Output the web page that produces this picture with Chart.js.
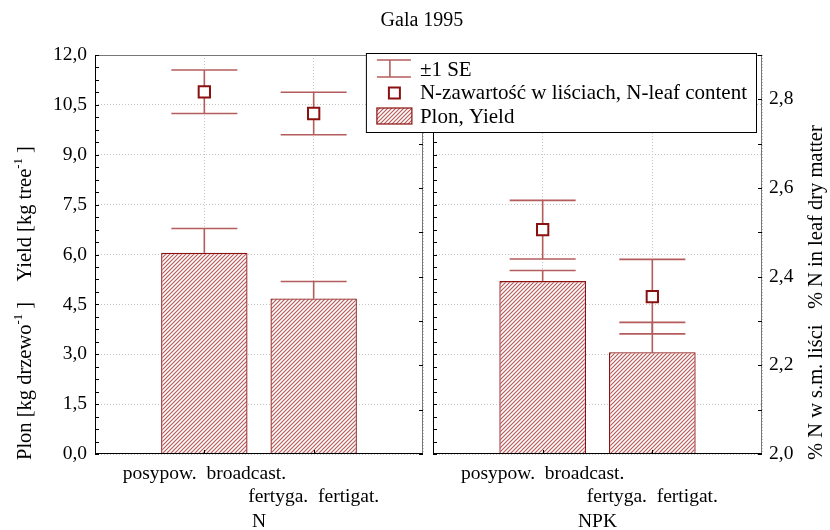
<!DOCTYPE html>
<html>
<head>
<meta charset="utf-8">
<script src="https://cdn.jsdelivr.net/npm/chart.js@4.4.1/dist/chart.umd.min.js"></script>
<style>
  body { margin: 0; background: #fff; }
  #wrap { position: relative; width: 830px; height: 530px; }
  #wrap canvas { position: absolute; left: 0; top: 0; }
  #title { position: absolute; left: 0; width: 844px; top: 8px; line-height: 22px;
           text-align: center; font: 20px "Liberation Serif"; color: #000; }
</style>
</head>
<body>
<div id="wrap">
  <canvas id="chartN" width="830" height="530"></canvas>
  <canvas id="chartNPK" width="830" height="530"></canvas>
  <div id="title">Gala 1995</div>
</div>
<script>
// data
var groups = ['N', 'NPK'];
var methods = [['posypow.  broadcast.', ''], ['', 'fertyga.  fertigat.']];

var yieldN = [6.05, 4.68];
var yieldSeN = [0.73, 0.51];
var yieldNPK = [5.20, 3.06];
var yieldSeNPK = [0.32, 0.90];

var leafN = [2.817, 2.768];
var leafSeN = [0.049, 0.048];
var leafNPK = [2.506, 2.355];
var leafSeNPK = [0.066, 0.084];

var legendLabels = ['\u00b11 SE', 'N-zawarto\u015b\u0107 w li\u015bciach, N-leaf content', 'Plon, Yield'];
// [text, superscript?]
var leftTitle = [['Plon [kg drzewo', 0], ['-1', 1], [' ]    Yield [kg tree', 0], ['-1', 1], [' ]', 0]];
var rightTitle = [['% N w s.m. li\u015bci   % N in leaf dry matter', 0]];

var dark = '#8b1010';
var errColor = '#b45c5c';
var serif = '"Liberation Serif", "Times New Roman", serif';

function pad(arr) {
    return [null].concat(arr, [null]);
}

function makeHatch() {
    var c = document.createElement('canvas');
    c.width = 4; c.height = 4;
    var g = c.getContext('2d');
    g.fillStyle = '#fff';
    g.fillRect(0, 0, 4, 4);
    g.strokeStyle = '#b85a5a';
    g.lineWidth = 1.2;
    g.beginPath();
    g.moveTo(0, 4); g.lineTo(4, 0);
    g.moveTo(-1, 1); g.lineTo(1, -1);
    g.moveTo(3, 5); g.lineTo(5, 3);
    g.stroke();
    return g.createPattern(c, 'repeat');
}
var hatch = makeHatch();

function fmt(v) {
    return v.toFixed(1).replace('.', ',');
}

function seg(ctx, x1, y1, x2, y2) {
    ctx.beginPath();
    ctx.moveTo(x1, y1);
    ctx.lineTo(x2, y2);
    ctx.stroke();
}

// error bars: yield only above the bar, leaf content both ways
var errorBars = {
    id: 'errorBars',
    beforeDatasetsDraw: function(chart, args, opts) {
        var ctx = chart.ctx, x = chart.scales.x, y = chart.scales.y, y1 = chart.scales.y1;
        var half = opts.cap / 2;
        ctx.save();
        ctx.strokeStyle = errColor;
        ctx.lineWidth = 1.6;
        opts.yieldVals.forEach(function(v, i) {
            var px = x.getPixelForValue(i + 1);
            var base = y.getPixelForValue(v);
            var top = y.getPixelForValue(v + opts.yieldSe[i]);
            seg(ctx, px, base, px, top);
            seg(ctx, px - half, top, px + half, top);
        });
        opts.leafVals.forEach(function(v, i) {
            var px = x.getPixelForValue(i + 1);
            var hi = y1.getPixelForValue(v + opts.leafSe[i]);
            var lo = y1.getPixelForValue(v - opts.leafSe[i]);
            seg(ctx, px, lo, px, hi);
            seg(ctx, px - half, hi, px + half, hi);
            seg(ctx, px - half, lo, px + half, lo);
        });
        ctx.restore();
    }
};

// plot frame with small inward ticks
var frame = {
    id: 'frame',
    afterDatasetsDraw: function(chart) {
        var a = chart.chartArea, ctx = chart.ctx;
        var y = chart.scales.y, y1 = chart.scales.y1, x = chart.scales.x;
        var v, p;
        ctx.save();
        ctx.lineWidth = 1;
        ctx.strokeStyle = '#777';
        seg(ctx, a.left, a.top + 0.5, a.right, a.top + 0.5);
        seg(ctx, a.right - 0.5, a.top, a.right - 0.5, a.bottom);
        ctx.strokeStyle = '#000';
        seg(ctx, a.left + 0.5, a.top, a.left + 0.5, a.bottom);
        seg(ctx, a.left, a.bottom - 0.5, a.right, a.bottom - 0.5);
        for (v = 0; v <= 12.001; v += 0.375) {
            p = Math.round(y.getPixelForValue(v)) + 0.5;
            seg(ctx, a.left, p, a.left + 4, p);
        }
        for (v = 2.0; v <= 2.901; v += 0.1) {
            p = Math.round(y1.getPixelForValue(v)) + 0.5;
            seg(ctx, a.right - 4, p, a.right, p);
        }
        for (v = 1; v <= 2; v++) {
            p = Math.round(x.getPixelForValue(v)) + 0.5;
            seg(ctx, p, a.bottom, p, a.bottom - 4);
        }
        ctx.restore();
    }
};

// rotated axis titles, reading upwards on both sides
var sideTitle = {
    id: 'sideTitle',
    afterDraw: function(chart, args, opts) {
        var ctx = chart.ctx, a = chart.chartArea;
        var size = opts.size;
        var cx = opts.side === 'left' ? a.left - opts.gap : a.right + opts.gap;
        var pos = 0;
        ctx.save();
        ctx.translate(cx, a.bottom + opts.drop);
        ctx.rotate(-Math.PI / 2);
        ctx.fillStyle = '#000';
        ctx.textAlign = 'left';
        ctx.textBaseline = 'middle';
        opts.parts.forEach(function(part) {
            var s = part[1] ? size * 0.62 : size;
            ctx.font = s + 'px ' + serif;
            ctx.fillText(part[0], pos, part[1] ? -size * 0.38 : 0);
            pos += ctx.measureText(part[0]).width;
        });
        ctx.restore();
    }
};

var legendBox = {
    id: 'legendBox',
    afterDraw: function(chart) {
        var ctx = chart.ctx, a = chart.chartArea;
        ctx.save();
        ctx.font = '21px ' + serif;
        var tw = 0;
        legendLabels.forEach(function(t) { tw = Math.max(tw, ctx.measureText(t).width); });
        var w = 54 + tw + 9, h = 79;
        var right = a.right - 6, top = a.top - 2, left = right - w;
        var rowH = 23.5, cy = top + 16, sx = left + 28;
        ctx.fillStyle = '#fff';
        ctx.fillRect(left, top, w, h);
        ctx.strokeStyle = '#000';
        ctx.lineWidth = 1;
        ctx.strokeRect(left + 0.5, top + 0.5, w, h);
        // error bar symbol
        ctx.strokeStyle = errColor;
        ctx.lineWidth = 1.6;
        seg(ctx, sx - 17, cy - 9, sx + 17, cy - 9);
        seg(ctx, sx - 17, cy + 8, sx + 17, cy + 8);
        seg(ctx, sx - 4, cy - 9, sx - 4, cy + 8);
        // square marker
        ctx.strokeStyle = dark;
        ctx.lineWidth = 2;
        ctx.fillStyle = '#fff';
        ctx.fillRect(sx - 5, cy + rowH - 5, 11, 11);
        ctx.strokeRect(sx - 5, cy + rowH - 5, 11, 11);
        // hatched box
        ctx.fillStyle = hatch;
        ctx.fillRect(sx - 17, cy + 2 * rowH - 8, 35, 16);
        ctx.lineWidth = 1.2;
        ctx.strokeRect(sx - 17, cy + 2 * rowH - 8, 35, 16);
        ctx.fillStyle = '#000';
        ctx.textAlign = 'left';
        ctx.textBaseline = 'middle';
        legendLabels.forEach(function(t, i) {
            ctx.fillText(t, left + 54, cy + i * rowH + 1);
        });
        ctx.restore();
    }
};

function makeChart(id, g, yieldVals, yieldSe, leafVals, leafSe, isLeft) {
    var gridDots = { color: '#c4c4c4', drawTicks: false };
    var tickFont = { family: serif, size: 19.5 };
    return new Chart(document.getElementById(id), {
        type: 'bar',
        data: {
            labels: [''].concat(methods, ['']),
            datasets: [{
                type: 'line',
                label: legendLabels[1],
                data: pad(leafVals),
                yAxisID: 'y1',
                showLine: false,
                pointStyle: 'rect',
                pointRadius: 8,
                pointBorderWidth: 2,
                pointBorderColor: dark,
                pointBackgroundColor: '#fff',
                order: 0
            }, {
                label: legendLabels[2],
                data: pad(yieldVals),
                yAxisID: 'y',
                backgroundColor: hatch,
                borderColor: dark,
                borderWidth: 1.3,
                barPercentage: 0.79,
                categoryPercentage: 1,
                order: 1
            }]
        },
        options: {
            responsive: false,
            animation: false,
            events: [],
            layout: { padding: isLeft ? { top: 55, right: 407, left: 0, bottom: 0 } : { top: 55, left: 433, right: 0, bottom: 0 } },
            scales: {
                x: {
                    offset: false,
                    grid: Object.assign({ offset: false }, gridDots),
                    border: { display: false, dash: [1, 2] },
                    ticks: { color: '#000', font: { family: serif, size: 19.5, lineHeight: 1.2 }, padding: 8, autoSkip: false, maxRotation: 0 },
                    title: { display: true, text: g, color: '#000', font: { family: serif, size: 19.5, lineHeight: '16px' }, padding: { top: 4, bottom: 0 } },
                    afterFit: function(s) { s.height = 76; }
                },
                y: {
                    position: 'left',
                    min: 0, max: 12,
                    grid: gridDots,
                    border: { display: false, dash: [1, 2] },
                    ticks: { display: isLeft, stepSize: 1.5, color: '#000', padding: 8,
                             font: tickFont, callback: function(v) { return fmt(v); } },
                    afterFit: function(s) { s.width = isLeft ? 95 : 0; }
                },
                y1: {
                    position: 'right',
                    display: !isLeft,
                    min: 2.0, max: 2.9,
                    grid: { drawOnChartArea: false, drawTicks: false },
                    border: { display: false },
                    ticks: { stepSize: 0.2, includeBounds: false, color: '#000', padding: 7,
                             font: tickFont, callback: function(v) { return fmt(v); } },
                    afterFit: function(s) { s.width = isLeft ? 0 : 68; }
                }
            },
            plugins: {
                legend: { display: false },
                tooltip: { enabled: false },
                errorBars: { cap: 66, yieldVals: yieldVals, yieldSe: yieldSe, leafVals: leafVals, leafSe: leafSe },
                sideTitle: isLeft ? { side: 'left', gap: 69, drop: 6, size: 20.5, parts: leftTitle }
                                  : { side: 'right', gap: 55, drop: 6, size: 20.5, parts: rightTitle }
            }
        },
        plugins: isLeft ? [errorBars, frame, sideTitle] : [errorBars, frame, sideTitle, legendBox]
    });
}

makeChart('chartN', groups[0], yieldN, yieldSeN, leafN, leafSeN, true);
makeChart('chartNPK', groups[1], yieldNPK, yieldSeNPK, leafNPK, leafSeNPK, false);
</script>
</body>
</html>
